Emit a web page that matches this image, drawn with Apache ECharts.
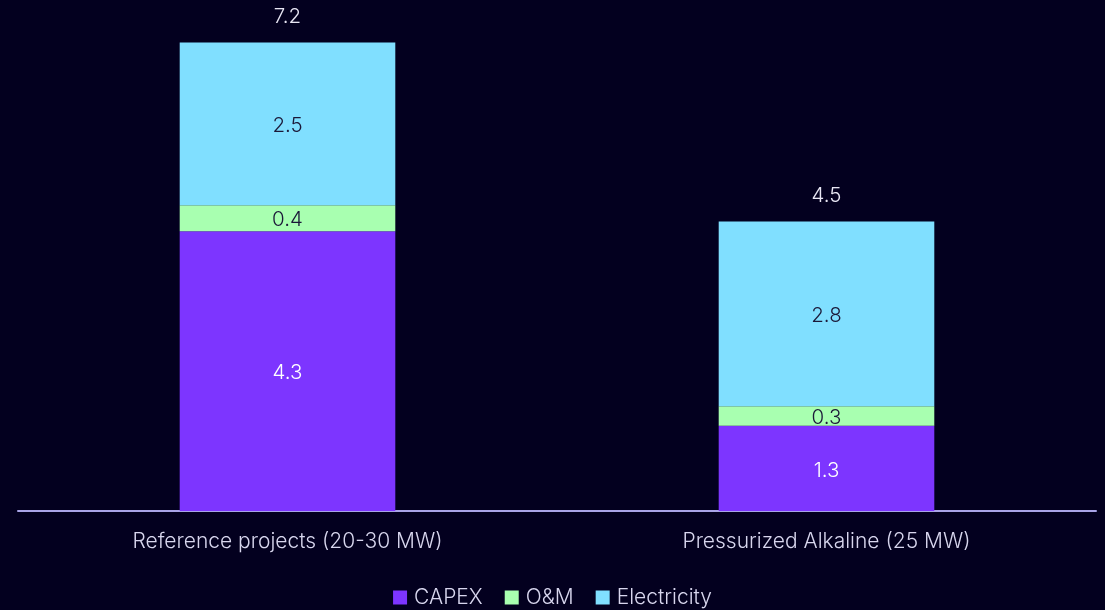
<!DOCTYPE html>
<html>
<head>
<meta charset="utf-8">
<script src="https://cdn.jsdelivr.net/npm/echarts@6/dist/echarts.min.js"></script>
<style>
  html, body { margin: 0; padding: 0; background: #03001f; }
  #main { width: 1105px; height: 610px; }
</style>
</head>
<body>
<div id="main"></div>
<script>
// categories
var categories = ['Reference projects (20-30 MW)', 'Pressurized Alkaline (25 MW)'];
// series values
var capex = [4.3, 1.31];
var om = [0.4, 0.3];
var electricity = [2.5, 2.84];
// printed totals on top
var totals = [7.2, 4.5];

var chart = echarts.init(document.getElementById('main'));

var fontFam = 'Inter, "Noto Sans", sans-serif';
var fontW = 300;

function innerLabel(color) {
  return {
    show: true,
    position: 'inside',
    offset: [0, 2],
    color: color,
    fontSize: 20.5,
    fontWeight: fontW,
    fontFamily: fontFam,
    formatter: function (p) { return p.value.toFixed(1); }
  };
}

var option = {
  backgroundColor: '#03001f',
  animation: false,
  grid: { left: 18, right: 9, top: 23, bottom: 99 },
  legend: {
    bottom: -3,
    left: 'center',
    itemWidth: 14,
    itemHeight: 14,
    itemGap: 22,
    icon: 'rect',
    data: ['CAPEX', 'O&M', 'Electricity'],
    textStyle: { color: '#d8d6ee', fontSize: 21, fontWeight: fontW, fontFamily: fontFam, padding: [0, 0, 0, 2] }
  },
  xAxis: {
    type: 'category',
    data: categories,
    axisTick: { show: false },
    axisLine: { lineStyle: { color: '#a9a4e8', width: 2 } },
    axisLabel: { color: '#d8d6ee', fontSize: 21, fontWeight: fontW, fontFamily: fontFam, margin: 20 }
  },
  yAxis: {
    type: 'value',
    min: 0,
    max: 7.5,
    show: false,
    splitLine: { show: false }
  },
  series: [
    {
      name: 'CAPEX', type: 'bar', stack: 'total', barWidth: '40%',
      itemStyle: { color: '#7d35ff' },
      label: innerLabel('#ffffff'),
      data: capex
    },
    {
      name: 'O&M', type: 'bar', stack: 'total',
      itemStyle: { color: '#a8ffb0' },
      label: innerLabel('#1b1838'),
      data: om
    },
    {
      name: 'Electricity', type: 'bar', stack: 'total',
      itemStyle: { color: '#80dfff' },
      label: innerLabel('#1b1838'),
      data: electricity
    },
    {
      name: 'Total', type: 'bar', stack: 'total',
      itemStyle: { color: 'transparent' },
      label: {
        show: true,
        position: 'top',
        distance: 15,
        color: '#e8e6f4',
        fontSize: 20.5,
        fontWeight: fontW,
        fontFamily: fontFam,
        formatter: function (p) { return totals[p.dataIndex].toFixed(1); }
      },
      data: totals.map(function () { return 0; })
    }
  ]
};

chart.setOption(option);
</script>
</body>
</html>
